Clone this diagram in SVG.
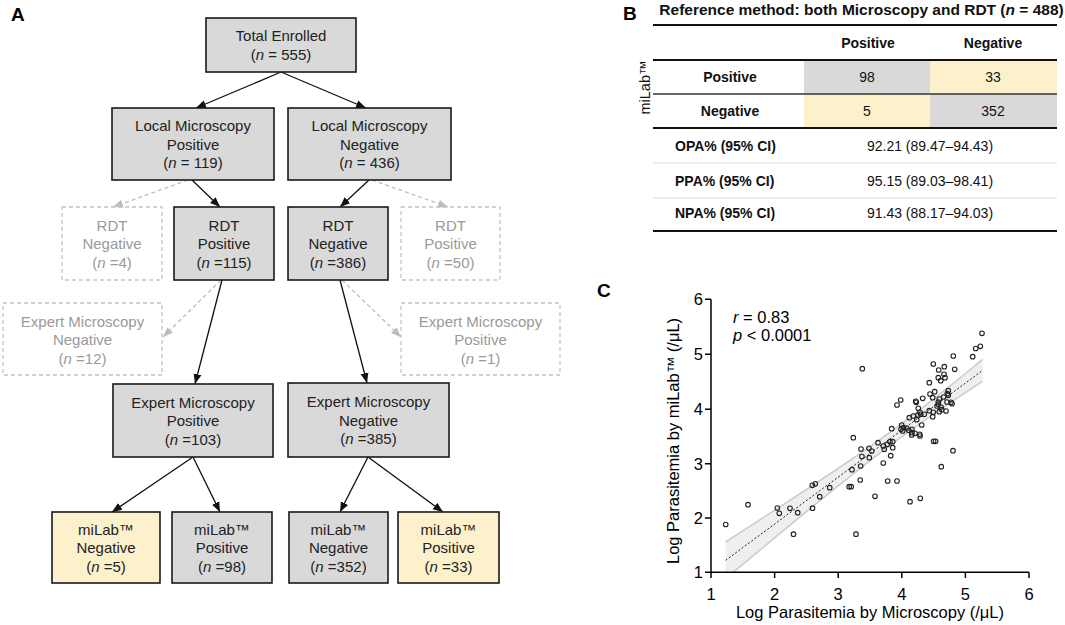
<svg xmlns="http://www.w3.org/2000/svg" width="1065" height="625" viewBox="0 0 1065 625">
<defs>
<style>
text{font-family:"Liberation Sans",Arial,sans-serif;}
.lbl{font-size:19px;font-weight:bold;fill:#000;}
.bx{fill:#d9d9d9;stroke:#1a1a1a;stroke-width:1.6;}
.by{fill:#fdf1cb;stroke:#1a1a1a;stroke-width:1.6;}
.bd{fill:none;stroke:#c4c4c4;stroke-width:1.3;stroke-dasharray:4,3;}
.t{font-size:15px;fill:#222;text-anchor:middle;}
.tg{font-size:15px;fill:#9a9a9a;text-anchor:middle;}
.c{stroke:#111;stroke-width:1.3;fill:none;marker-end:url(#ah);}
.cg{stroke:#bdbdbd;stroke-width:1.3;fill:none;stroke-dasharray:4,3;marker-end:url(#ahg);}
.tb{font-size:14px;fill:#111;}
.tbb{font-size:14px;fill:#111;font-weight:bold;}
.ttl{font-size:15.5px;fill:#111;font-weight:bold;}
.thick{stroke:#111;stroke-width:2;}
.mid{stroke:#333;stroke-width:1.4;}
.thin{stroke:#dcdcdc;stroke-width:1;}
.ax{stroke:#000;stroke-width:1.5;fill:none;}
.tk{font-size:16.5px;fill:#000;}
.pt{fill:none;stroke:#222;stroke-width:1.1;}
</style>
<marker id="ah" markerUnits="userSpaceOnUse" markerWidth="10" markerHeight="10" viewBox="0 0 10 10" refX="10" refY="5" orient="auto"><path d="M0,1 L10,5 L0,9 Z" fill="#111"/></marker>
<marker id="ahg" markerUnits="userSpaceOnUse" markerWidth="10" markerHeight="10" viewBox="0 0 10 10" refX="10" refY="5" orient="auto"><path d="M0,1 L10,5 L0,9 Z" fill="#bdbdbd"/></marker>
<clipPath id="plot"><rect x="711" y="290" width="330" height="282.3"/></clipPath>
</defs>
<rect width="1065" height="625" fill="#fff"/>

<!-- Panel A -->
<text class="lbl" x="11" y="21">A</text>
<g id="connectors">
<path class="c" d="M281,72 L196,108"/>
<path class="c" d="M281,72 L366,108"/>
<path class="c" d="M192,180 L220,207"/>
<path class="c" d="M369,180 L340,207"/>
<path class="c" d="M222,280 L195,384"/>
<path class="c" d="M340,280 L367,383"/>
<path class="c" d="M193,457 L112,512"/>
<path class="c" d="M193,457 L220,512"/>
<path class="c" d="M368,457 L340,512"/>
<path class="c" d="M368,457 L443,512"/>
<path class="cg" d="M188,180 L113,207"/>
<path class="cg" d="M372,180 L448,207"/>
<path class="cg" d="M221,280 L163,337"/>
<path class="cg" d="M342,280 L401,337"/>
</g>
<g id="total"><rect class="bx" x="206" y="18" width="150" height="54"/><text class="t" x="281" y="41">Total Enrolled</text><text class="t" x="281" y="60">(<tspan font-style="italic">n</tspan> = 555)</text></g>
<g id="lmp"><rect class="bx" x="112" y="108" width="162" height="72"/><text class="t" x="193" y="131">Local Microscopy</text><text class="t" x="193" y="149.5">Positive</text><text class="t" x="193" y="168">(<tspan font-style="italic">n</tspan> = 119)</text></g>
<g id="lmn"><rect class="bx" x="288" y="108" width="163" height="72"/><text class="t" x="369.5" y="131">Local Microscopy</text><text class="t" x="369.5" y="149.5">Negative</text><text class="t" x="369.5" y="168">(<tspan font-style="italic">n</tspan> = 436)</text></g>
<g id="rdtneg1"><rect class="bd" x="62" y="207" width="100" height="73"/><text class="tg" x="112" y="230.5">RDT</text><text class="tg" x="112" y="249">Negative</text><text class="tg" x="112" y="267.5">(<tspan font-style="italic">n</tspan> =4)</text></g>
<g id="rdtpos"><rect class="bx" x="174" y="207" width="100" height="73"/><text class="t" x="224" y="230.5">RDT</text><text class="t" x="224" y="249">Positive</text><text class="t" x="224" y="267.5">(<tspan font-style="italic">n</tspan> =115)</text></g>
<g id="rdtneg"><rect class="bx" x="288" y="207" width="100" height="73"/><text class="t" x="338" y="230.5">RDT</text><text class="t" x="338" y="249">Negative</text><text class="t" x="338" y="267.5">(<tspan font-style="italic">n</tspan> =386)</text></g>
<g id="rdtpos2"><rect class="bd" x="401" y="207" width="99" height="73"/><text class="tg" x="450.5" y="230.5">RDT</text><text class="tg" x="450.5" y="249">Positive</text><text class="tg" x="450.5" y="267.5">(<tspan font-style="italic">n</tspan> =50)</text></g>
<g id="emneg1"><rect class="bd" x="3" y="303" width="159" height="72"/><text class="tg" x="82.5" y="326.5">Expert Microscopy</text><text class="tg" x="82.5" y="345">Negative</text><text class="tg" x="82.5" y="363.5">(<tspan font-style="italic">n</tspan> =12)</text></g>
<g id="empos2"><rect class="bd" x="401" y="303" width="159" height="72"/><text class="tg" x="480.5" y="326.5">Expert Microscopy</text><text class="tg" x="480.5" y="345">Positive</text><text class="tg" x="480.5" y="363.5">(<tspan font-style="italic">n</tspan> =1)</text></g>
<g id="empos"><rect class="bx" x="113" y="384" width="160" height="73"/><text class="t" x="193" y="407.5">Expert Microscopy</text><text class="t" x="193" y="426">Positive</text><text class="t" x="193" y="444.5">(<tspan font-style="italic">n</tspan> =103)</text></g>
<g id="emneg"><rect class="bx" x="288" y="383" width="161" height="74"/><text class="t" x="368.5" y="407">Expert Microscopy</text><text class="t" x="368.5" y="425.5">Negative</text><text class="t" x="368.5" y="444">(<tspan font-style="italic">n</tspan> =385)</text></g>
<g id="mlneg1"><rect class="by" x="52" y="512" width="108" height="71"/><text class="t" x="106" y="534.5">miLab™</text><text class="t" x="106" y="553">Negative</text><text class="t" x="106" y="571.5">(<tspan font-style="italic">n</tspan> =5)</text></g>
<g id="mlpos1"><rect class="bx" x="172" y="512" width="100" height="71"/><text class="t" x="222" y="534.5">miLab™</text><text class="t" x="222" y="553">Positive</text><text class="t" x="222" y="571.5">(<tspan font-style="italic">n</tspan> =98)</text></g>
<g id="mlneg2"><rect class="bx" x="289" y="512" width="99" height="71"/><text class="t" x="338.5" y="534.5">miLab™</text><text class="t" x="338.5" y="553">Negative</text><text class="t" x="338.5" y="571.5">(<tspan font-style="italic">n</tspan> =352)</text></g>
<g id="mlpos2"><rect class="by" x="398" y="512" width="101" height="71"/><text class="t" x="448.5" y="534.5">miLab™</text><text class="t" x="448.5" y="553">Positive</text><text class="t" x="448.5" y="571.5">(<tspan font-style="italic">n</tspan> =33)</text></g>

<!-- Panel B -->
<g id="tableB">
<text class="lbl" x="623" y="20">B</text>
<text class="ttl" x="861.5" y="14.5" text-anchor="middle">Reference method: both Microscopy and RDT (<tspan font-style="italic">n</tspan> = 488)</text>
<rect x="804" y="60" width="126" height="34" fill="#d9d9d9"/>
<rect x="930" y="60" width="127" height="34" fill="#fdf1cb"/>
<rect x="804" y="94" width="126" height="34" fill="#fdf1cb"/>
<rect x="930" y="94" width="127" height="34" fill="#d9d9d9"/>
<line class="thick" x1="653" y1="25" x2="1057" y2="25"/>
<line class="thick" x1="653" y1="60" x2="1057" y2="60"/>
<line class="mid" x1="653" y1="94" x2="1057" y2="94"/>
<line class="thick" x1="653" y1="128" x2="1057" y2="128"/>
<line class="thin" x1="653" y1="163" x2="1057" y2="163"/>
<line class="thin" x1="653" y1="198" x2="1057" y2="198"/>
<line class="thick" x1="653" y1="231" x2="1057" y2="231"/>
<text class="tbb" x="868" y="48" text-anchor="middle">Positive</text>
<text class="tbb" x="993" y="48" text-anchor="middle">Negative</text>
<text class="tbb" x="730" y="82" text-anchor="middle">Positive</text>
<text class="tb" x="867" y="82" text-anchor="middle">98</text>
<text class="tb" x="993" y="82" text-anchor="middle">33</text>
<text class="tbb" x="730" y="116" text-anchor="middle">Negative</text>
<text class="tb" x="867" y="116" text-anchor="middle">5</text>
<text class="tb" x="993" y="116" text-anchor="middle">352</text>
<text class="tbb" x="675" y="150.5">OPA% (95% CI)</text>
<text class="tb" x="930" y="150.5" text-anchor="middle">92.21 (89.47–94.43)</text>
<text class="tbb" x="675" y="185.5">PPA% (95% CI)</text>
<text class="tb" x="930" y="185.5" text-anchor="middle">95.15 (89.03–98.41)</text>
<text class="tbb" x="675" y="217.5">NPA% (95% CI)</text>
<text class="tb" x="930" y="217.5" text-anchor="middle">91.43 (88.17–94.03)</text>
<text font-size="14.5" fill="#111" text-anchor="middle" transform="translate(650,87.5) rotate(-90)">miLab™</text>
</g>

<!-- Panel C -->
<g id="plotC">
<text class="lbl" x="597" y="297">C</text>
<g clip-path="url(#plot)">
<path d="M725.6,542 L742.8,530.9 L774.6,510.3 L806.4,489.5 L838.2,468.4 L870,446.6 L895.4,428.3 L920.9,409 L946.3,388.9 L965.4,373.5 L982.6,359.4 L982.6,381.3 L965.4,392.7 L946.3,405.4 L920.9,423 L895.4,441.3 L870,460.6 L838.2,485.8 L806.4,511.7 L774.6,537.9 L742.8,564.3 L725.6,578.6 Z" fill="#efefef"/>
<path d="M725.6,542 L742.8,530.9 L774.6,510.3 L806.4,489.5 L838.2,468.4 L870,446.6 L895.4,428.3 L920.9,409 L946.3,388.9 L965.4,373.5 L982.6,359.4" fill="none" stroke="#cbcbcb" stroke-width="1.5"/>
<path d="M982.6,381.3 L965.4,392.7 L946.3,405.4 L920.9,423 L895.4,441.3 L870,460.6 L838.2,485.8 L806.4,511.7 L774.6,537.9 L742.8,564.3 L725.6,578.6" fill="none" stroke="#cbcbcb" stroke-width="1.5"/>
</g>
<line x1="725.6" y1="560.3" x2="982.6" y2="370.4" stroke="#222" stroke-width="1" stroke-dasharray="2,2"/>
<g class="pt">
<circle cx="725.7" cy="524.5" r="2.3"/><circle cx="748" cy="504.7" r="2.3"/><circle cx="777.3" cy="508" r="2.3"/><circle cx="779.3" cy="513.3" r="2.3"/><circle cx="790" cy="508.3" r="2.3"/><circle cx="797.7" cy="512.7" r="2.3"/><circle cx="793.5" cy="534.2" r="2.3"/><circle cx="812.3" cy="485.3" r="2.3"/><circle cx="815.3" cy="483.8" r="2.3"/><circle cx="812.5" cy="508.2" r="2.3"/><circle cx="819.7" cy="496.7" r="2.3"/><circle cx="829.7" cy="487.7" r="2.3"/><circle cx="849.2" cy="486.7" r="2.3"/><circle cx="851.2" cy="486.7" r="2.3"/><circle cx="852" cy="469.7" r="2.3"/><circle cx="853.3" cy="437.7" r="2.3"/><circle cx="856" cy="534.2" r="2.3"/><circle cx="860.2" cy="480" r="2.3"/><circle cx="860.7" cy="466" r="2.3"/><circle cx="861" cy="449" r="2.3"/><circle cx="861.9" cy="456.5" r="2.3"/><circle cx="869" cy="448.3" r="2.3"/><circle cx="871.7" cy="451" r="2.3"/><circle cx="869.3" cy="457.7" r="2.3"/><circle cx="875" cy="496.3" r="2.3"/><circle cx="878" cy="442.7" r="2.3"/><circle cx="883.3" cy="446" r="2.3"/><circle cx="884.3" cy="449.3" r="2.3"/><circle cx="887.3" cy="444.3" r="2.3"/><circle cx="890" cy="441.7" r="2.3"/><circle cx="892.7" cy="441.7" r="2.3"/><circle cx="892.7" cy="447.7" r="2.3"/><circle cx="883.3" cy="463" r="2.3"/><circle cx="890.7" cy="455.7" r="2.3"/><circle cx="887.7" cy="481" r="2.3"/><circle cx="897" cy="481" r="2.3"/><circle cx="910" cy="501.7" r="2.3"/><circle cx="920.3" cy="498.3" r="2.3"/><circle cx="933.6" cy="441.3" r="2.3"/><circle cx="935.6" cy="441.3" r="2.3"/><circle cx="953" cy="450.7" r="2.3"/><circle cx="941.3" cy="466.7" r="2.3"/><circle cx="911.7" cy="435" r="2.3"/><circle cx="920" cy="436" r="2.3"/>
<circle cx="982" cy="333.3" r="2.3"/><circle cx="975.7" cy="348.5" r="2.3"/><circle cx="980.3" cy="346.3" r="2.3"/><circle cx="972.7" cy="356.7" r="2.3"/><circle cx="953.3" cy="356" r="2.3"/><circle cx="862.3" cy="368.7" r="2.3"/><circle cx="933.3" cy="364" r="2.3"/><circle cx="944.3" cy="366.7" r="2.3"/><circle cx="938.7" cy="370" r="2.3"/><circle cx="954.7" cy="369.3" r="2.3"/><circle cx="944" cy="374.3" r="2.3"/><circle cx="938.3" cy="377.7" r="2.3"/><circle cx="945" cy="377.7" r="2.3"/><circle cx="940.7" cy="380.7" r="2.3"/><circle cx="929.3" cy="382.7" r="2.3"/><circle cx="934.7" cy="391.7" r="2.3"/><circle cx="930" cy="394" r="2.3"/><circle cx="948.3" cy="390.7" r="2.3"/><circle cx="947.3" cy="393.7" r="2.3"/><circle cx="948.3" cy="395.3" r="2.3"/><circle cx="943.7" cy="397" r="2.3"/><circle cx="939.3" cy="399" r="2.3"/><circle cx="938.3" cy="402" r="2.3"/><circle cx="938.3" cy="404.3" r="2.3"/><circle cx="932.7" cy="397.7" r="2.3"/><circle cx="922.7" cy="398.3" r="2.3"/><circle cx="915.7" cy="401.3" r="2.3"/><circle cx="916.3" cy="402.3" r="2.3"/><circle cx="900.7" cy="400" r="2.3"/><circle cx="897" cy="405" r="2.3"/><circle cx="947" cy="402" r="2.3"/><circle cx="951" cy="402.3" r="2.3"/><circle cx="952" cy="403.7" r="2.3"/><circle cx="937" cy="406" r="2.3"/><circle cx="941" cy="407" r="2.3"/><circle cx="941.7" cy="409.7" r="2.3"/><circle cx="946" cy="411" r="2.3"/><circle cx="929.3" cy="410.7" r="2.3"/><circle cx="933.3" cy="412.3" r="2.3"/><circle cx="939.3" cy="411.7" r="2.3"/><circle cx="918.3" cy="408.3" r="2.3"/><circle cx="920" cy="412.3" r="2.3"/><circle cx="918" cy="415" r="2.3"/><circle cx="920.7" cy="414.3" r="2.3"/><circle cx="924.3" cy="414.3" r="2.3"/><circle cx="913.3" cy="416" r="2.3"/><circle cx="909.3" cy="417.7" r="2.3"/><circle cx="932.7" cy="416.7" r="2.3"/><circle cx="916.7" cy="419.7" r="2.3"/><circle cx="921.7" cy="425" r="2.3"/><circle cx="891.7" cy="428.7" r="2.3"/><circle cx="901.7" cy="425" r="2.3"/><circle cx="903.3" cy="427.7" r="2.3"/><circle cx="901" cy="429.3" r="2.3"/><circle cx="902.7" cy="431" r="2.3"/><circle cx="906.7" cy="428" r="2.3"/><circle cx="908.7" cy="430.3" r="2.3"/><circle cx="912" cy="429.3" r="2.3"/><circle cx="912" cy="432.7" r="2.3"/><circle cx="915" cy="433.3" r="2.3"/><circle cx="919.7" cy="434.3" r="2.3"/>
</g>
<path class="ax" d="M711,299.3 L711,572.3 L1029,572.3"/>
<path class="ax" d="M705,299.3 H711 M705,354.3 H711 M705,409.3 H711 M705,463.7 H711 M705,518 H711 M705,572.3 H711 M711,572.3 V578 M774.6,572.3 V578 M838.2,572.3 V578 M901.8,572.3 V578 M965.4,572.3 V578 M1029,572.3 V578"/>
<g class="tk" text-anchor="end">
<text x="703" y="305.3">6</text><text x="703" y="360.3">5</text><text x="703" y="415.3">4</text><text x="703" y="469.7">3</text><text x="703" y="524">2</text><text x="703" y="578.3">1</text>
</g>
<g class="tk" text-anchor="middle">
<text x="711" y="600">1</text><text x="774.6" y="600">2</text><text x="838.2" y="600">3</text><text x="901.8" y="600">4</text><text x="965.4" y="600">5</text><text x="1029" y="600">6</text>
</g>
<text class="tk" x="870" y="618" text-anchor="middle">Log Parasitemia by Microscopy (/μL)</text>
<text class="tk" text-anchor="middle" transform="translate(679,441) rotate(-90)">Log Parasitemia by miLab™ (/μL)</text>
<text class="tk" x="733" y="322.5"><tspan font-style="italic">r</tspan> = 0.83</text>
<text class="tk" x="733" y="341"><tspan font-style="italic">p</tspan> &lt; 0.0001</text>
</g>
</svg>
